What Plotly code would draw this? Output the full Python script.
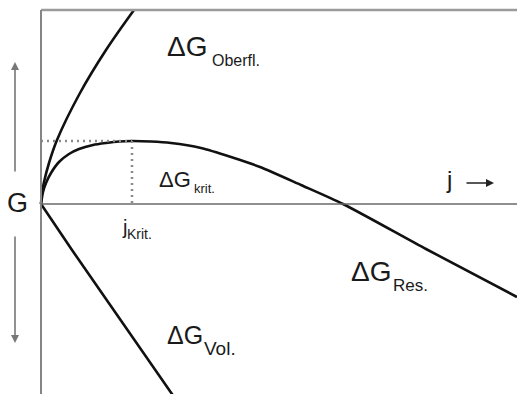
import plotly.graph_objects as go

# Cluster size j (arbitrary units) and free-energy contributions G (arbitrary units)
j_surface = [0, 1, 3, 8, 16, 39, 65, 93]
g_surface = [0, 11, 22, 41, 64, 111, 154, 194]

j_volume = [0, 31, 65, 131, 140]
g_volume = [0, -46, -95, -190, -203]

j_result = [0, 2, 5, 10, 18, 28, 38, 52, 65, 78, 91, 110, 130, 160, 190, 219,
            260, 302, 385, 476]
g_result = [0, 12, 21, 31, 42, 50, 55, 59, 61, 62.5, 63, 62.5, 61, 56, 47, 37,
            19, 0, -45, -93]

# Critical nucleus
j_crit = 91
g_crit = 63

# Frame extents
j_max = 476
g_top = 194
g_bottom = -190

FONT = "Liberation Sans, Arial, sans-serif"
INK = "#1a1a1a"

fig = go.Figure()

curve = dict(color="#111111", width=2.6)
fig.add_trace(go.Scatter(x=j_surface, y=g_surface, mode="lines",
                         line=dict(shape="spline", smoothing=1.0, **curve),
                         hoverinfo="skip"))
fig.add_trace(go.Scatter(x=j_volume, y=g_volume, mode="lines",
                         line=curve, hoverinfo="skip"))
fig.add_trace(go.Scatter(x=j_result, y=g_result, mode="lines",
                         line=dict(shape="spline", smoothing=0.7, **curve),
                         hoverinfo="skip"))

# Dotted guides to the maximum of the resulting curve
guide = dict(color="#8a8a8a", width=2.5, dash="2px,4px")
fig.add_trace(go.Scatter(x=[0, j_crit], y=[g_crit, g_crit], mode="lines",
                         line=guide, hoverinfo="skip"))
fig.add_trace(go.Scatter(x=[j_crit, j_crit], y=[g_crit, 0], mode="lines",
                         line=guide, hoverinfo="skip"))

shapes = [
    dict(type="line", x0=0, x1=j_max + 5, y0=g_top, y1=g_top,
         line=dict(color="#9a9a9a", width=2.5)),
    dict(type="line", x0=0, x1=0, y0=g_top, y1=g_bottom - 10,
         line=dict(color="#858585", width=2)),
    dict(type="line", x0=0, x1=j_max + 5, y0=0, y1=0,
         line=dict(color="#6a6a6a", width=1.5)),
]

annotations = []


def label(x, y, text, size):
    annotations.append(dict(x=x, y=y, xref="x", yref="y", text=text,
                            showarrow=False, xanchor="left", yanchor="middle",
                            font=dict(family=FONT, size=size, color=INK)))


# Labels: main symbol plus subscript
label(124, 158, "ΔG", 28)
label(169, 144, "Oberfl.", 16)

label(116, 25, "ΔG", 22)
label(151, 16, "krit.", 13)

label(79, -23, "j", 20)
label(84, -30, "Krit.", 14)

label(403, 25, "j", 24)

label(308, -67, "ΔG", 28)
label(350, -81, "Res.", 17)

label(124, -131, "ΔG", 25)
label(161, -144, "Vol.", 19)

label(-36, 1, "G", 27)


# Direction arrows
def arrow(x_tip, y_tip, x_tail, y_tail, color):
    annotations.append(dict(x=x_tip, y=y_tip, ax=x_tail, ay=y_tail,
                            xref="x", yref="y", axref="x", ayref="y",
                            text="", showarrow=True, arrowhead=2,
                            arrowsize=1, arrowwidth=1.6, arrowcolor=color))


arrow(-26, 142, -26, 31, "#777777")
arrow(-26, -139, -26, -31, "#777777")
arrow(453, 21, 424, 21, "#222222")

fig.update_layout(
    width=517, height=394,
    margin=dict(l=0, r=0, t=0, b=0),
    paper_bgcolor="white", plot_bgcolor="white",
    showlegend=False,
    xaxis=dict(range=[-41, 476], visible=False, fixedrange=True),
    yaxis=dict(range=[-190, 204], visible=False, fixedrange=True),
    shapes=shapes,
    annotations=annotations,
)

fig.write_html("out.html")
